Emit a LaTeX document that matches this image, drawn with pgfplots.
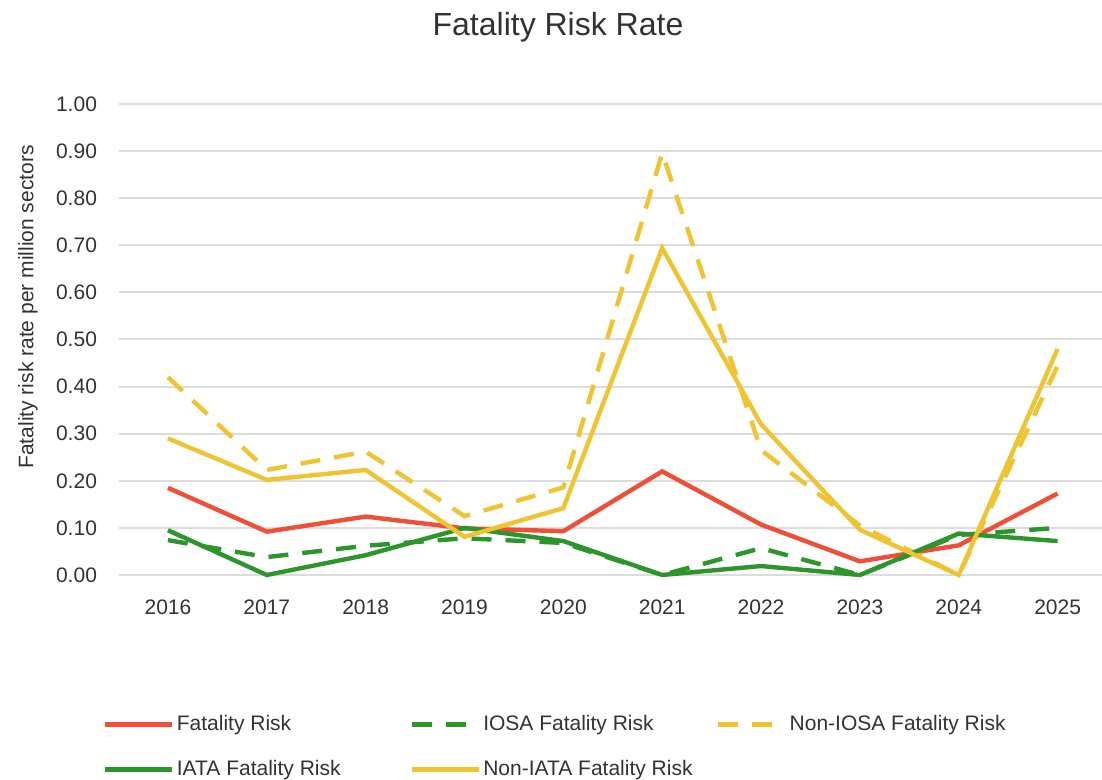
\documentclass[border=0pt]{standalone}
\usepackage{fontspec}
\setmainfont{Liberation Sans}
\usepackage{pgfplots}
\pgfplotsset{compat=1.18}
\definecolor{cred}{RGB}{240,78,55}
\definecolor{cgreen}{RGB}{44,150,44}
\definecolor{cyellow}{RGB}{240,196,48}
\definecolor{cgrid}{RGB}{220,220,220}
\definecolor{ctext}{RGB}{50,50,50}
\begin{document}
\begin{tikzpicture}[x=1pt,y=1pt]
\path[use as bounding box] (0,0) rectangle (551,390);
\begin{axis}[
  at={(59.5pt,102.5pt)}, anchor=south west,
  scale only axis, width=491.5pt, height=235.5pt,
  xmin=-0.495, xmax=9.449, ymin=0, ymax=1,
  clip=false,
  axis line style={draw=none},
  major tick length=0pt,
  tick style={draw=none},
  ytick={0,0.1,0.2,0.3,0.4,0.5,0.6,0.7,0.8,0.9,1.0},
  ymajorgrids, grid style={cgrid, line width=1pt},
  xtick={0,1,2,3,4,5,6,7,8,9},
  xticklabels={2016,2017,2018,2019,2020,2021,2022,2023,2024,2025},
  /pgf/number format/assume math mode=true,
  yticklabel style={/pgf/number format/.cd, fixed, fixed zerofill, precision=2, /tikz/.cd, xshift=-7.5pt, font=\fontsize{10.5}{12}\selectfont, text=ctext},
  xticklabel style={yshift=-9pt, font=\fontsize{10.5}{12}\selectfont, text=ctext},
  ylabel={Fatality risk rate per million sectors},
  ylabel style={at={(axis description cs:-0.0926,0.569)}, anchor=center, font=\fontsize{10.5}{12}\selectfont, text=ctext},
  title={Fatality Risk Rate},
  title style={at={(axis description cs:0.4466,1.138)}, anchor=center, font=\fontsize{16}{19}\selectfont, text=ctext},
  legend columns=3,
  legend cell align=left,
  legend style={draw=none, fill=none, inner sep=0pt, outer sep=0pt,
    at={(axis description cs:-0.0163,-0.365)}, anchor=west,
    font=\fontsize{10.5}{12}\selectfont, text=ctext,
    row sep=11pt,
    nodes={inner sep=1.25pt}},
  legend image code/.code={\draw[#1] (0pt,0pt) -- (33.5pt,0pt);},
  every axis plot/.append style={line width=2.2pt},
]
\addplot[cred] coordinates {(0,0.185) (1,0.092) (2,0.124) (3,0.099) (4,0.093) (5,0.220) (6,0.107) (7,0.029) (8,0.063) (9,0.173)};
\addlegendentry{\makebox[115pt][l]{Fatality Risk}}
\addplot[cgreen, dash pattern=on 10pt off 7pt] coordinates {(0,0.074) (1,0.038) (2,0.062) (3,0.078) (4,0.068) (5,0.0) (6,0.057) (7,0.0) (8,0.085) (9,0.100)};
\addlegendentry{\makebox[115pt][l]{IOSA Fatality Risk}}
\addplot[cyellow, dash pattern=on 10pt off 7pt] coordinates {(0,0.42) (1,0.223) (2,0.262) (3,0.125) (4,0.186) (5,0.896) (6,0.265) (7,0.105) (8,0.0) (9,0.444)};
\addlegendentry{\makebox[115pt][l]{Non-IOSA Fatality Risk}}
\addplot[cgreen] coordinates {(0,0.095) (1,0.0) (2,0.042) (3,0.100) (4,0.072) (5,0.0) (6,0.019) (7,0.0) (8,0.088) (9,0.072)};
\addlegendentry{\makebox[115pt][l]{IATA Fatality Risk}}
\addplot[cyellow] coordinates {(0,0.29) (1,0.202) (2,0.223) (3,0.081) (4,0.142) (5,0.694) (6,0.32) (7,0.096) (8,0.0) (9,0.48)};
\addlegendentry{\makebox[115pt][l]{Non-IATA Fatality Risk}}
\end{axis}
\end{tikzpicture}
\end{document}
